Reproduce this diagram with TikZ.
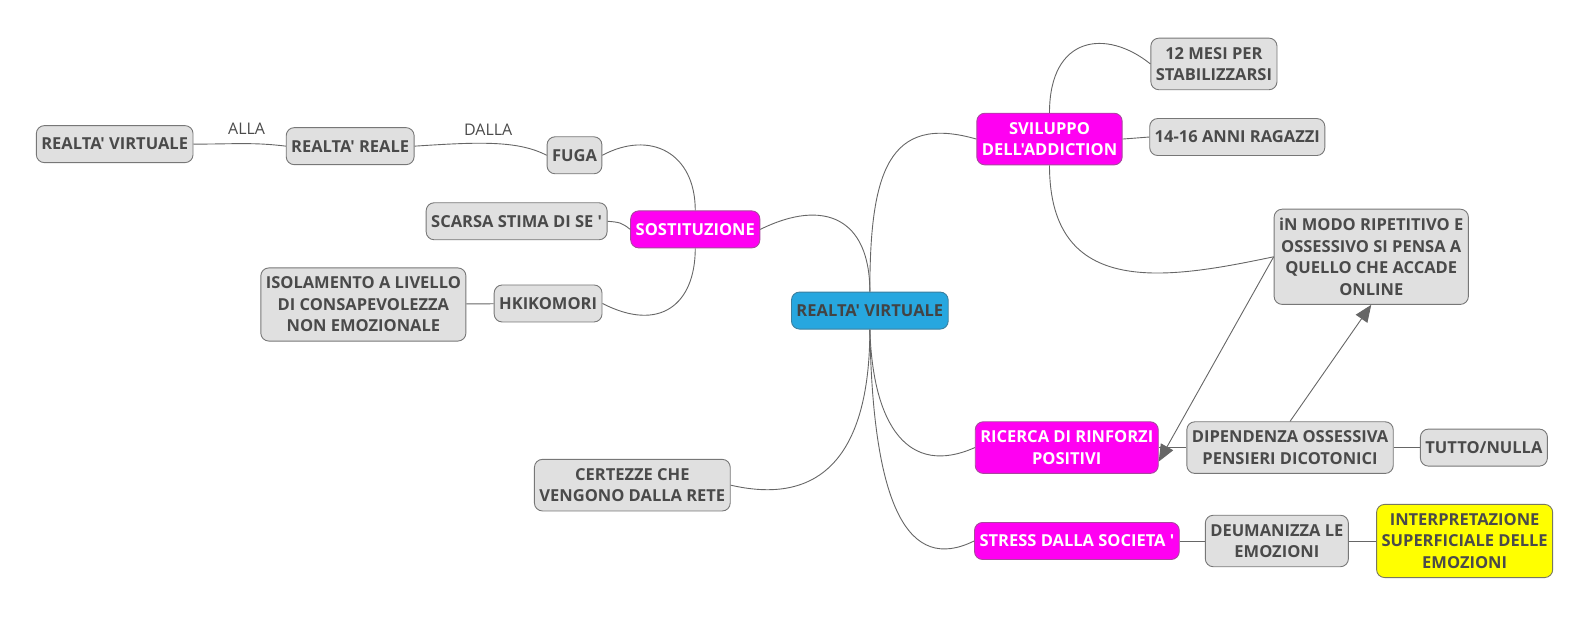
\documentclass[tikz,border=0pt]{standalone}
\usepackage{xcolor}
\usepackage{fontspec}
\setmainfont{Open Sans}[Ligatures=TeXOff]
\usetikzlibrary{arrows.meta, positioning}

\definecolor{boxgray}{HTML}{E0E0E0}
\definecolor{edgegray}{HTML}{777777}
\definecolor{txtgray}{HTML}{4A4A4A}
\definecolor{linegray}{HTML}{666666}
\definecolor{mag}{HTML}{FF00F2}
\definecolor{magedge}{HTML}{A8479E}
\definecolor{skyblue}{HTML}{27A7DF}
\definecolor{skyedge}{HTML}{3C7F9E}
\definecolor{yel}{HTML}{FFFF00}

\begin{document}
\begin{tikzpicture}[x=1.015pt, y=-1.015pt,
          GB/.style = {draw=edgegray, fill=boxgray, rounded corners=8pt, line width=0.9pt,
          text=txtgray, align=center, inner xsep=5pt, inner ysep=9pt, minimum height=37pt,
          font=\fontsize{16.5}{21.5}\selectfont\bfseries},
          MB/.style = {GB, draw=magedge, fill=mag, text=white},
          CB/.style = {GB, draw=skyedge, fill=skyblue, text=txtgray!90!black},
          YB/.style = {GB, draw=edgegray!80!olive, fill=yel},
          LN/.style = {draw=linegray, line width=0.9pt},
          AR/.style = {LN, -{Triangle[length=17pt, width=14pt]}},
          LB/.style = {text=txtgray, font=\fontsize{16}{18}\selectfont} ]

\useasboundingbox (0,0) rectangle (1568.5,607.9);

% centre
\node (rv)  [CB] at (857,306) {REALTA' VIRTUALE};

% left branch
\node (sost)   [MB] at (685,226) {SOSTITUZIONE};
\node (fuga)   [GB] at (566,153) {FUGA};
\node (rreale) [GB] at (345,144) {REALTA' REALE};
\node (rvirt)  [GB] at (113,142) {REALTA' VIRTUALE};
\node (stima)  [GB] at (509,218) {SCARSA STIMA DI SE '};
\node (hki)    [GB] at (540,299) {HKIKOMORI};
\node (isol)   [GB] at (358,300) {ISOLAMENTO A LIVELLO\\DI CONSAPEVOLEZZA\\NON EMOZIONALE};
\node (cert)   [GB] at (623,478) {CERTEZZE CHE\\VENGONO DALLA RETE};

% right branch
\node (svil)   [MB] at (1034,137) {SVILUPPO\\DELL'ADDICTION};
\node (mesi)   [GB] at (1196,63)  {12 MESI PER\\STABILIZZARSI};
\node (anni)   [GB] at (1219,135) {14-16 ANNI RAGAZZI};
\node (modo)   [GB] at (1351,253) {iN MODO RIPETITIVO E\\OSSESSIVO SI PENSA A\\QUELLO CHE ACCADE\\ONLINE};
\node (ric)    [MB] at (1051,441) {RICERCA DI RINFORZI\\POSITIVI};
\node (dip)    [GB] at (1271,441) {DIPENDENZA OSSESSIVA\\PENSIERI DICOTONICI};
\node (tutto)  [GB] at (1462,441) {TUTTO/NULLA};
\node (stress) [MB] at (1061,533) {STRESS DALLA SOCIETA '};
\node (deum)   [GB] at (1258,533) {DEUMANIZZA LE\\EMOZIONI};
\node (interp) [YB] at (1443,533) {INTERPRETAZIONE\\SUPERFICIALE DELLE\\EMOZIONI};

% labels
\node (alla)  [LB] at (243,127) {ALLA};
\node (dalla) [LB] at (481,128) {DALLA};

% connectors
\path[LN] (rv.north) .. controls (857,170) and (875,112) .. (svil.west);
\path[LN] (rv.north) .. controls (857,215) and (812,195) .. (sost.east);
\path[LN] (rv.south) .. controls (857,440) and (815,500) .. (cert.east);
\path[LN] (rv.south) .. controls (860,420) and (895,470) .. (ric.west);
\path[LN] (rv.south) .. controls (860,500) and (895,565) .. (stress.west);

\path[LN] (sost.north) .. controls (685,150) and (640,128) .. (fuga.east);
\path[LN] (sost.south) .. controls (685,300) and (650,328) .. (hki.east);
\path[LN] (sost.west) .. controls (612,219) and (610,219) .. (stima.east);
\path[LN] (fuga.west) .. controls (510,138) and (470,140) .. (rreale.east);
\path[LN] (rreale.west) .. controls (250,140) and (230,142) .. (rvirt.east);
\path[LN] (hki) -- (isol);

\path[LN] (svil.north) .. controls (1034,35) and (1090,28) .. (mesi.west);
\path[LN] (svil.east) -- (anni.west);
\path[LN] (svil.south) .. controls (1034,295) and (1150,275) .. (modo.west);
\path[LN] (ric) -- (dip);
\path[LN] (dip) -- (tutto);
\path[LN] (stress) -- (deum);
\path[LN] (deum) -- (interp);

% arrows
\draw[AR] (modo.west) -- ([yshift=-14pt]ric.east);
\draw[AR] (dip.north) -- (modo.south);
\end{tikzpicture}
\end{document}
